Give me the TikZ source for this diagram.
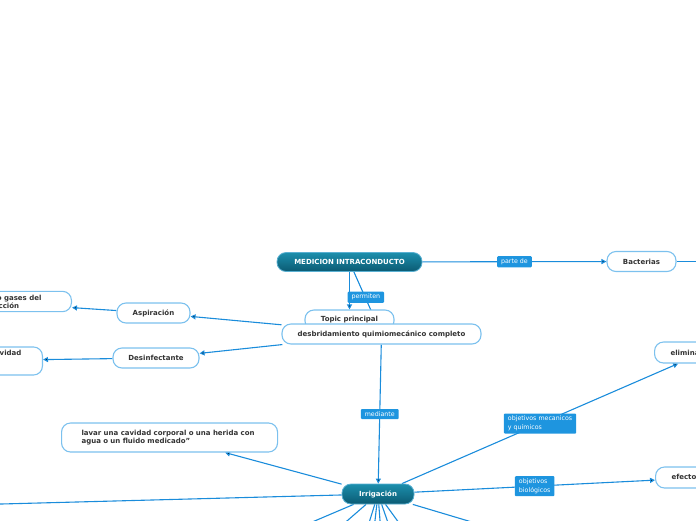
\documentclass[tikz,border=0pt]{standalone}
\usepackage{fontspec}
\setmainfont{DejaVu Sans}
\usetikzlibrary{positioning, arrows.meta, backgrounds}
\definecolor{linecol}{HTML}{1A8CDB}
\definecolor{bordercol}{HTML}{7CC1EE}
\definecolor{labelcol}{HTML}{1E95DF}
\definecolor{darktop}{HTML}{1C8FAD}
\definecolor{darkbot}{HTML}{0B5A72}
\definecolor{darkline}{HTML}{5AB0D2}
\definecolor{textcol}{HTML}{333333}
\tikzset{
	x=1pt, y=-1pt, % one unit is one pixel of the map, y runs down
	maintopic/.style={rounded corners=9pt, top color=darktop, bottom color=darkbot, draw=darkline, line width=0.8pt, text=white, font=\fontsize{7}{8}\selectfont\bfseries, minimum height=19pt},
	subtopic/.style={rounded corners=9pt, fill=white, draw=bordercol, line width=1.1pt, text=textcol, font=\fontsize{7}{8}\selectfont\bfseries, minimum height=20pt},
	lbl/.style={fill=labelcol, text=white, font=\fontsize{6.3}{9}\selectfont, inner xsep=4pt, inner ysep=2.5pt, align=left, rounded corners=1pt},
	conn/.style={draw=linecol, line width=1.1pt, -{Triangle[length=5pt,width=5pt]}},
}
\begin{document}
\begin{tikzpicture}
	\useasboundingbox (0,0) rectangle (696,520);
	\clip (0,0) rectangle (696,520);
	\node[maintopic, minimum width=145pt] (med) at (349.5,262) {MEDICION INTRACONDUCTO};
	\node[subtopic, minimum width=69pt] (bac) at (641.5,261.5) {Bacterias};
	\node[subtopic, minimum width=89pt] (topic) at (349.5,320) {Topic principal};
	\node[subtopic, minimum width=199pt] (desb) at (381.5,334) {desbridamiento quimiomecánico completo};
	\node[subtopic, minimum width=73pt] (asp) at (153.5,313) {Aspiración};
	\node[subtopic, minimum width=86pt] (desinf) at (156,358) {Desinfectante};
	\node[subtopic, align=left, inner xsep=20pt, anchor=east] (succ) at (72,301.5) {extracción de líquidos o gases del\hspace*{10pt}\\la cavidad mediante succión};
	\node[subtopic, align=left, inner xsep=21pt, anchor=east] (cavi) at (43,361) {destruir microorganismos en la cavidad\\pulpar y en el sistema\\de conductos};
	\node[maintopic, minimum width=72pt, minimum height=20pt] (irr) at (378,494) {Irrigación};
	\node[subtopic, align=left, text width=176pt, inner xsep=20pt, minimum height=29pt, anchor=west] (lavar) at (61,437.5) {lavar una cavidad corporal o una herida con\\agua o un fluido medicado”};
	\node[subtopic, inner xsep=16pt, minimum height=21pt, anchor=west] (elim) at (654,352.5) {eliminar detritos};
	\node[subtopic, inner xsep=16pt, minimum height=21pt, anchor=west] (efec) at (655,477.5) {efecto antiséptico};
	\coordinate (bacout) at (800,261.5);
	\coordinate (irrw) at (-300,512);
	\foreach \i/\x in {1/129, 2/256, 3/345, 4/366, 5/386, 6/415, 7/455, 8/733}
		\coordinate (irrs\i) at (\x,600);
	\begin{scope}[on background layer]
		\clip (0,0) rectangle (696,520);
		\draw[conn] (med) edge (desb)
				(med) edge node[lbl]{parte de} (bac)
				(med) edge node[lbl, pos=0.675, anchor=west, xshift=-2.5pt]{permiten} (topic)
				(desb) edge (asp)
				(desb) edge (desinf)
				(asp) edge (succ)
				(desinf) edge (cavi)
				(desb) edge node[lbl]{mediante} (irr)
				(irr) edge (lavar)
				(irr) edge node[lbl]{objetivos mecanicos\\y químicos} (elim)
				(irr) edge node[lbl]{objetivos\\biológicos} (efec)
				(bac) edge (bacout)
				(irr) edge (irrw);
		\foreach \i in {1,...,8}
			\draw[conn] (irr) -- (irrs\i);
	\end{scope}
\end{tikzpicture}
\end{document}
